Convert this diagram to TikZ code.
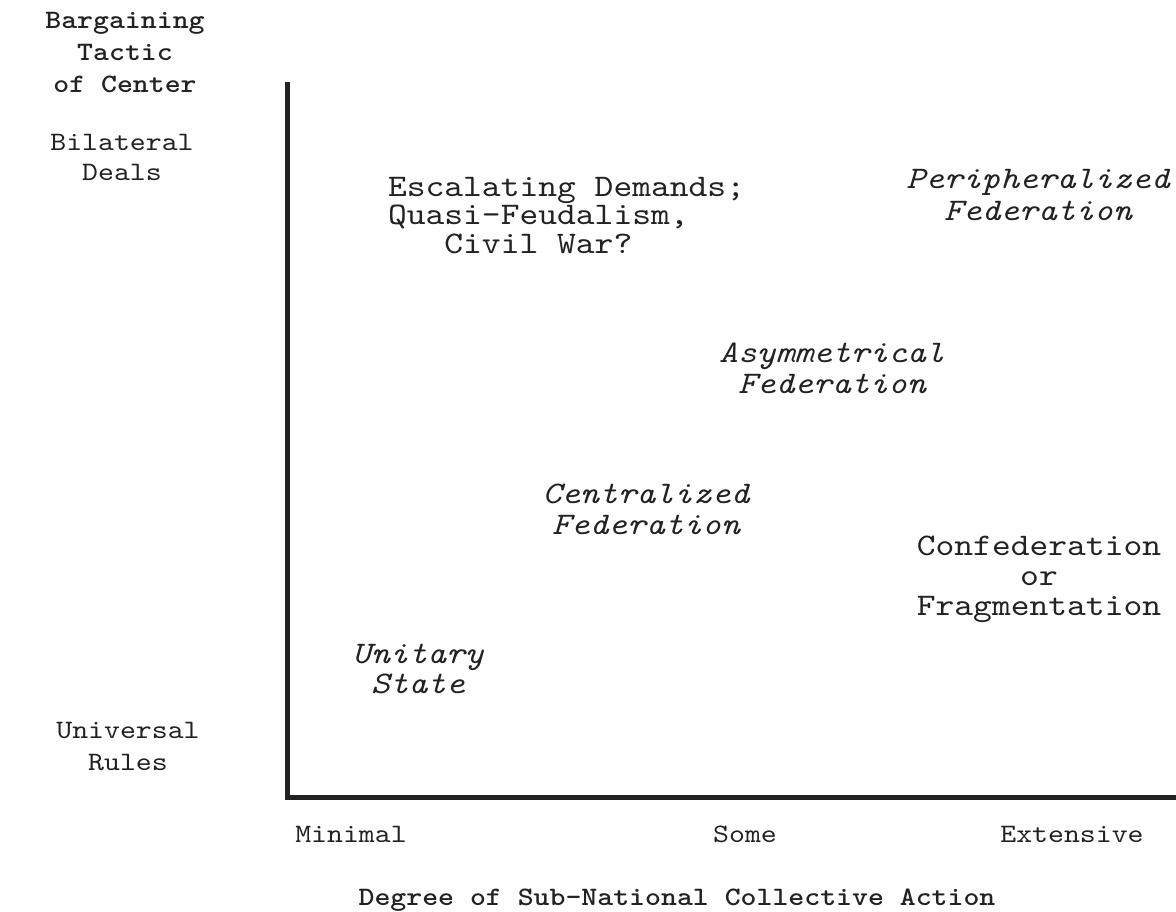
\documentclass[tikz,border=0pt]{standalone}
\usepackage{fontspec}
\newfontfamily\cour[Extension=.otf, UprightFont=*-regular, ItalicFont=lmmono10-italic, BoldFont=lmmonolt10-bold, FakeStretch=1.14]{lmmono10}
\definecolor{ink}{RGB}{34,34,34}
\begin{document}
\begin{tikzpicture}[x=1pt,y=-1pt,
  lab/.style={inner sep=0pt, outer sep=0pt, text=ink, align=center, anchor=base},
  big/.style={font=\cour\fontsize{31.4}{31}\selectfont},
  bigit/.style={font=\cour\itshape\fontsize{31.4}{31}\selectfont},
  small/.style={font=\cour\fontsize{26.6}{31}\selectfont},
  smallbf/.style={font=\cour\bfseries\fontsize{26.6}{32}\selectfont},
  axisline/.style={draw=ink, line width=5pt, line join=miter, line cap=butt}]
\useasboundingbox (0,0) rectangle (1176,911);
% axes
\coordinate (ytop) at (287,82);
\coordinate (orig) at (287,797.5);
\coordinate (xend) at (1176,797.5);
\draw[axisline] (ytop) -- (orig) -- (xend);
% axis titles (base anchor = baseline of the last line)
\node[lab, smallbf] (ytitle) at (125,92) {Bargaining\\Tactic\\of Center};
\node[lab, smallbf] (xtitle) at (677,905) {Degree of Sub-National Collective Action};
% y ticks
\node[lab, small, font=\cour\fontsize{26.6}{30}\selectfont] (bilat) at (122,180) {Bilateral\\Deals};
\node[lab, small, font=\cour\fontsize{26.6}{32}\selectfont] (univ) at (128,770) {Universal\\Rules};
% x ticks
\node[lab, small] (minimal) at (351,842) {Minimal};
\node[lab, small] (some) at (745,842) {Some};
\node[lab, small] (ext) at (1072,842) {Extensive};
% cells
\node[lab, align=left, anchor=base west, font=\cour\fontsize{31.4}{28.5}\selectfont] (esc) at (388,253) {Escalating Demands;\\Quasi-Feudalism,\\\phantom{xxx}Civil War?};
\node[lab, font=\cour\itshape\fontsize{31.4}{32}\selectfont] (peri) at (1038,220) {Peripheralized\\Federation};
\node[lab, bigit] (asym) at (832,393) {Asymmetrical\\Federation};
\node[lab, bigit] (cent) at (646,534) {Centralized\\Federation};
\node[lab, font=\cour\fontsize{31.4}{30}\selectfont] (conf) at (1039,615) {Confederation\\or\\Fragmentation};
\node[lab, font=\cour\itshape\fontsize{31.4}{30}\selectfont] (unit) at (418,693) {Unitary\\State};
\end{tikzpicture}
\end{document}
